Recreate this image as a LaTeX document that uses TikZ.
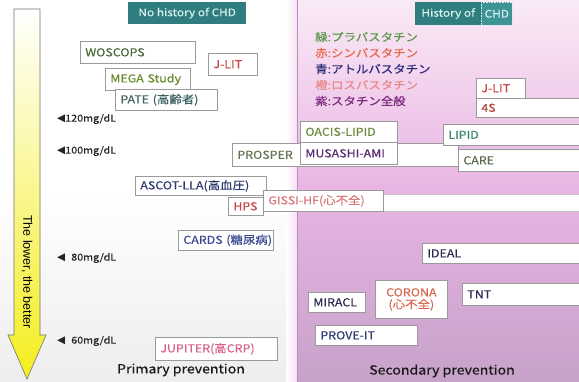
\documentclass[tikz,border=0pt]{standalone}
\usepackage{fontspec}
\setmainfont[FakeStretch=1.13, FakeBold=0.35]{Noto Sans CJK JP}
\newfontfamily\arrowfont{Liberation Sans}
\newfontfamily\symfont{DejaVu Sans}
\definecolor{teal1}{HTML}{2F7D7F}
\definecolor{teal2}{HTML}{3E9494}
\definecolor{tealtxt}{HTML}{D6F0EE}
\definecolor{pinkA}{HTML}{FAEAF6}
\definecolor{pinkB}{HTML}{E8B4E2}
\definecolor{purpC}{HTML}{C6A2C9}
\definecolor{divline}{HTML}{B58FBF}
\definecolor{yelB}{HTML}{F4EE1E}
\definecolor{yelM}{HTML}{FAF6A8}
\definecolor{boxgray}{HTML}{9A9A9A}
\definecolor{bandgray}{HTML}{C4C4C4}
\definecolor{cWos}{HTML}{4B6B3B}
\definecolor{cMega}{HTML}{6A8A2A}
\definecolor{cPate}{HTML}{3D6060}
\definecolor{cPros}{HTML}{5F7550}
\definecolor{cOacis}{HTML}{6A8A3A}
\definecolor{cLipid}{HTML}{3A8A6A}
\definecolor{cCare}{HTML}{5A6A4A}
\definecolor{cRed}{HTML}{C84848}
\definecolor{cRedD}{HTML}{B04038}
\definecolor{cBlue}{HTML}{2E3A6E}
\definecolor{cBlueL}{HTML}{3A4890}
\definecolor{cBlueD}{HTML}{2A2A50}
\definecolor{cGissi}{HTML}{D87878}
\definecolor{cJup}{HTML}{D8608A}
\definecolor{cCor}{HTML}{D86850}
\definecolor{cMus}{HTML}{5A2A70}
\definecolor{lgGreen}{HTML}{5A9A4A}
\definecolor{lgRed}{HTML}{E8684A}
\definecolor{lgBlue}{HTML}{2A2A7A}
\definecolor{lgOrange}{HTML}{E88A8A}
\definecolor{lgPurple}{HTML}{7A2A7A}
\tikzset{
  tb/.style={draw=boxgray, fill=white, line width=0.7pt, anchor=north west,
    inner xsep=5pt, inner ysep=0pt, align=left,
    font=\fontsize{11}{12}\selectfont},
  band/.style={draw=bandgray, fill=white, line width=0.6pt, anchor=north west,
    inner sep=0pt},
  hdr/.style={fill=teal1, text=tealtxt, anchor=north west, inner sep=0pt,
    font=\fontsize{10.5}{12}\selectfont},
  mk/.style={anchor=west, inner sep=0pt, text=black!85,
    font=\fontsize{9.5}{11}\selectfont},
  lg/.style={anchor=west, inner sep=0pt, font=\fontsize{11}{12}\selectfont},
  sect/.style={inner sep=0pt, text=black!90, font=\fontsize{12.5}{14}\selectfont}
}
\newcommand{\tri}{{\symfont\fontsize{10.5}{11}\selectfont ◀}}
\begin{document}
\begin{tikzpicture}[x=1pt,y=-1pt]
\useasboundingbox (0,0) rectangle (579,382);
% backgrounds
\shade[top color=white, bottom color=black!7, middle color=white] (0,0) rectangle (297,382);
\shade[left color=white, right color=pinkA!80!pinkB] (286,0) rectangle (297,382);
\shade[top color=pinkA, bottom color=purpC, middle color=pinkB] (297,0) rectangle (579,382);
\draw[divline, line width=1pt] (297,0) -- (297,382);
% headers
\node[hdr, minimum width=118pt, minimum height=22pt] (hnohist) at (128,2) {No history of CHD};
\node[hdr, minimum width=66pt, minimum height=23pt] (hhist) at (415,2) {History of};
\node[hdr, fill=teal2, draw=white!80!teal2, densely dotted, line width=0.6pt,
  minimum width=31pt, minimum height=23pt] (hchd) at (481,2) {CHD};
% arrow
\shade[top color=white, middle color=yelM, bottom color=yelB, draw=black!55, line width=0.6pt]
  (14,9) -- (40,9) -- (40,335) -- (46,335) -- (27,379) -- (8,335) -- (14,335) -- cycle;
\node[rotate=-90, inner sep=0pt, font=\arrowfont\fontsize{12.5}{14}\selectfont] (arrowtxt) at (27,272) {The lower, the better};
% level markers
\node[mk] (m120) at (57,119) {\tri120mg/dL};
\node[mk] (m100) at (57,151) {\tri100mg/dL};
\node[mk] (m80) at (57,258) {\tri\hspace{6pt}80mg/dL};
\node[mk] (m60) at (57,341) {\tri\hspace{6pt}60mg/dL};
% legend
\node[lg, text=lgGreen] (lg1) at (315,37) {緑:プラバスタチン};
\node[lg, text=lgRed] (lg2) at (315,53) {赤:シンバスタチン};
\node[lg, text=lgBlue] (lg3) at (315,69) {青:アトルバスタチン};
\node[lg, text=lgOrange] (lg4) at (315,85) {橙:ロスバスタチン};
\node[lg, text=lgPurple] (lg5) at (315,101) {紫:スタチン全般};
% primary prevention boxes
\node[tb, text width=105pt, minimum height=22pt, text=cWos] (woscops) at (80,41) {\mbox{WOSCOPS}};
\node[tb, text width=39pt, minimum height=22pt, text=cRed] (jlitp) at (208,53) {\mbox{J-LIT}};
\node[tb, text width=75pt, minimum height=22pt, text=cMega] (mega) at (105,68) {\mbox{MEGA Study}};
\node[tb, text width=92pt, minimum height=21pt, text=cPate] (pate) at (115,89) {\mbox{PATE (高齢者)}};
\node[tb, text width=216pt, minimum height=23pt, text=cPros] (prosper) at (232,143) {\mbox{PROSPER}};
\node[tb, text width=121pt, minimum height=19pt, text=cBlue] (ascot) at (135,176) {\mbox{ASCOT-LLA(高血圧)}};
\node[band, minimum width=316pt, minimum height=17pt] (gissiband) at (263,194) {};
\node[tb, text width=25pt, minimum height=18pt, text=cRed] (hps) at (228,197) {\mbox{HPS}};
\node[tb, text width=110pt, minimum height=21pt, text=cGissi] (gissi) at (263,190) {\mbox{GISSI-HF(心不全)}};
\node[tb, text width=85pt, minimum height=20pt, text=cBlueL] (cards) at (178,230) {\mbox{CARDS (糖尿病)}};
\node[tb, text width=112pt, minimum height=23pt, text=cJup] (jupiter) at (155,337) {\mbox{JUPITER(高CRP)}};
% secondary prevention boxes
\node[tb, text width=87pt, minimum height=21pt, text=cOacis] (oacis) at (300,121) {\mbox{OACIS-LIPID}};
\node[tb, text width=87pt, minimum height=22pt, text=cMus] (musashi) at (300,142) {\mbox{MUSASHI-AMI}};
\node[tb, text width=39pt, minimum height=20pt, text=cRed] (jlits) at (476,78) {\mbox{J-LIT}};
\node[tb, text width=93pt, minimum height=19pt, text=cRedD] (fours) at (476,98) {\mbox{4S}};
\node[tb, text width=126pt, minimum height=21pt, text=cLipid] (lipid) at (443,124) {\mbox{LIPID}};
\node[tb, text width=111pt, minimum height=22pt, text=cCare] (care) at (458,149) {\mbox{CARE}};
\node[tb, text width=147pt, minimum height=20pt, text=cBlueD] (ideal) at (422,243) {\mbox{IDEAL}};
\node[tb, text width=47pt, minimum height=20pt, text=cBlueD] (miracl) at (308,292) {\mbox{MIRACL}};
\node[tb, text width=62pt, minimum height=38pt, align=center, text=cCor] (corona) at (375,280) {CORONA\\(心不全)};
\node[tb, text width=107pt, minimum height=22pt, text=cBlueD] (tnt) at (462,283) {\mbox{TNT}};
\node[tb, text width=92pt, minimum height=20pt, text=cBlue] (proveit) at (315,325) {\mbox{PROVE-IT}};
% section labels
\node[sect] (primary) at (181,370) {Primary prevention};
\node[sect] (secondary) at (442,371) {Secondary prevention};
\end{tikzpicture}
\end{document}
